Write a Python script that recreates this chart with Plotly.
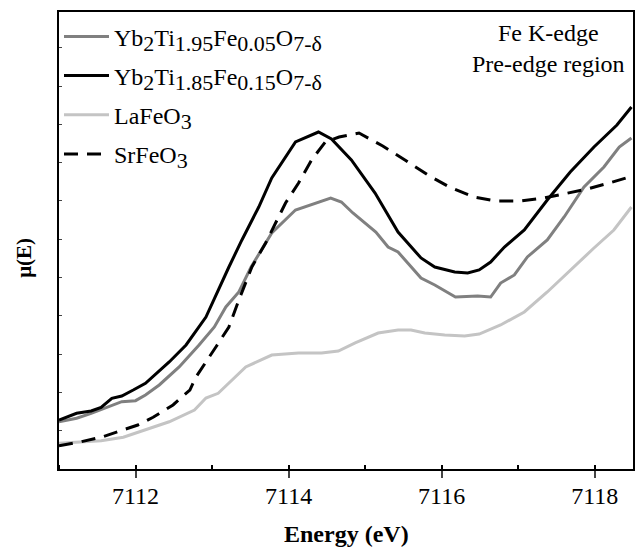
import plotly.graph_objects as go

# Energy (eV) and mu(E) values
x_fe005 = [7111.00, 7111.23, 7111.42, 7111.66, 7111.82, 7112.00, 7112.13, 7112.31, 7112.57, 7112.83,
           7113.03, 7113.18, 7113.35, 7113.51, 7113.78, 7114.09, 7114.35, 7114.55, 7114.69, 7114.84,
           7115.14, 7115.30, 7115.43, 7115.73, 7115.91, 7116.18, 7116.47, 7116.64, 7116.77, 7116.95,
           7117.12, 7117.38, 7117.60, 7117.86, 7118.12, 7118.32, 7118.48]
y_fe005 = [0.0617, 0.0662, 0.0727, 0.0813, 0.0879, 0.0892, 0.0966, 0.1097, 0.1332, 0.1619,
           0.1854, 0.2115, 0.2311, 0.2637, 0.3081, 0.3381, 0.3473, 0.3538, 0.3486, 0.3342,
           0.3094, 0.2898, 0.2833, 0.2493, 0.2402, 0.2245, 0.2258, 0.2245, 0.2428, 0.2533,
           0.2768, 0.2990, 0.3290, 0.3681, 0.3943, 0.4204, 0.4321]

x_fe015 = [7111.00, 7111.23, 7111.42, 7111.55, 7111.69, 7111.82, 7111.97, 7112.13, 7112.44, 7112.66,
           7112.92, 7113.05, 7113.22, 7113.39, 7113.61, 7113.78, 7114.09, 7114.39, 7114.56, 7114.82,
           7115.13, 7115.43, 7115.73, 7115.91, 7116.17, 7116.34, 7116.49, 7116.64, 7116.82, 7117.08,
           7117.38, 7117.68, 7117.99, 7118.29, 7118.48]
y_fe015 = [0.0640, 0.0727, 0.0757, 0.0805, 0.0923, 0.0953, 0.1031, 0.1119, 0.1397, 0.1619,
           0.1984, 0.2272, 0.2637, 0.2990, 0.3420, 0.3799, 0.4269, 0.4399, 0.4308, 0.4034,
           0.3603, 0.3094, 0.2755, 0.2637, 0.2572, 0.2559, 0.2598, 0.2702, 0.2898, 0.3120,
           0.3512, 0.3877, 0.4204, 0.4491, 0.4726]

x_lafeo3 = [7111.00, 7111.55, 7111.84, 7112.03, 7112.44, 7112.77, 7112.92, 7113.08, 7113.26, 7113.44,
            7113.78, 7114.13, 7114.43, 7114.65, 7114.87, 7115.17, 7115.43, 7115.60, 7115.78, 7116.04,
            7116.30, 7116.49, 7116.77, 7117.08, 7117.38, 7117.68, 7117.99, 7118.25, 7118.48]
y_lafeo3 = [0.0336, 0.0369, 0.0414, 0.0479, 0.0617, 0.0770, 0.0927, 0.0988, 0.1162, 0.1332,
            0.1488, 0.1514, 0.1514, 0.1540, 0.1645, 0.1775, 0.1815, 0.1815, 0.1775, 0.1749,
            0.1736, 0.1762, 0.1880, 0.2050, 0.2311, 0.2598, 0.2885, 0.3120, 0.3420]

x_srfeo3 = [7111.00, 7111.29, 7111.55, 7111.82, 7112.03, 7112.23, 7112.49, 7112.71, 7112.79, 7113.05,
            7113.22, 7113.35, 7113.52, 7113.70, 7113.96, 7114.13, 7114.30, 7114.48, 7114.66, 7114.92,
            7115.23, 7115.52, 7115.82, 7116.10, 7116.42, 7116.71, 7117.03, 7117.34, 7117.66, 7117.90,
            7118.19, 7118.45]
y_srfeo3 = [0.0304, 0.0356, 0.0414, 0.0509, 0.0574, 0.0675, 0.0836, 0.1031, 0.1201, 0.1593,
            0.1854, 0.2206, 0.2637, 0.2950, 0.3473, 0.3734, 0.4034, 0.4269, 0.4334, 0.4386,
            0.4217, 0.4034, 0.3838, 0.3681, 0.3551, 0.3499, 0.3499, 0.3538, 0.3603, 0.3655,
            0.3734, 0.3812]


def sub(t):
    return "<sub><span style='font-size:22px'>" + t + "</span></sub>"


names = ["Yb" + sub("2") + "Ti" + sub("1.95") + "Fe" + sub("0.05") + "O" + sub("7-δ"),
         "Yb" + sub("2") + "Ti" + sub("1.85") + "Fe" + sub("0.15") + "O" + sub("7-δ"),
         "LaFeO" + sub("3"),
         "SrFeO" + sub("3")]
x_ticks = [7112, 7114, 7116, 7118]

FONT = "Liberation Serif"

fig = go.Figure()
series = [(x_fe005, y_fe005, "#808080", "solid"),
          (x_fe015, y_fe015, "#000000", "solid"),
          (x_lafeo3, y_lafeo3, "#c4c4c4", "solid"),
          (x_srfeo3, y_srfeo3, "#000000", "14px,9px")]
for i, (xs, ys, col, dash) in enumerate(series):
    fig.add_trace(go.Scatter(x=xs, y=ys, mode="lines", name=names[i], legendgroup=f"g{i}",
                             hoverinfo="skip",
                             line=dict(color=col, width=3, dash=dash)))

fig.add_annotation(text="Fe K-edge<br>Pre-edge region", xref="paper", yref="paper",
                   x=0.852, y=0.920, xanchor="center", yanchor="middle",
                   showarrow=False, align="center",
                   font=dict(family=FONT, size=24, color="#000"))
fig.add_annotation(text="<b>Energy (eV)</b>", xref="paper", yref="paper",
                   x=0.5, y=-0.142, xanchor="center", yanchor="middle", showarrow=False,
                   font=dict(family=FONT, size=24, color="#000"))
fig.add_annotation(text="<b>μ(E)</b>", xref="paper", yref="paper", textangle=-90,
                   x=-0.061, y=0.462, xanchor="center", yanchor="middle", showarrow=False,
                   font=dict(family=FONT, size=21, color="#000"))

fig.update_layout(
    width=636, height=550,
    margin=dict(l=59, r=1, t=12, b=81),
    paper_bgcolor="white", plot_bgcolor="white",
    font=dict(family=FONT, color="#000"),
    showlegend=True,
    hovermode=False,
    legend=dict(x=0.0, y=0.995, xanchor="left", yanchor="top",
                bgcolor="rgba(0,0,0,0)", font=dict(family=FONT, size=24),
                itemwidth=45, tracegroupgap=5),
    xaxis=dict(range=[7111, 7118.5], tickvals=x_ticks, ticks="outside", ticklen=7,
               tickwidth=1.5, showline=True, linecolor="#000", linewidth=2, mirror=True,
               showgrid=False, zeroline=False, tickfont=dict(family=FONT, size=24),
               ticklabelstandoff=-3,
               minor=dict(dtick=1, tick0=7111, ticks="inside", ticklen=4, tickcolor="#000", showgrid=False)),
    yaxis=dict(range=[0, 0.5966], dtick=0.05, tick0=0, ticks="inside", ticklen=3, tickwidth=1,
               showticklabels=False, showline=True, linecolor="#000", linewidth=2, mirror=True,
               showgrid=False, zeroline=False),
)

fig.write_html("out.html", config={"displayModeBar": False},
               post_script="document.body.style.margin='0';")
